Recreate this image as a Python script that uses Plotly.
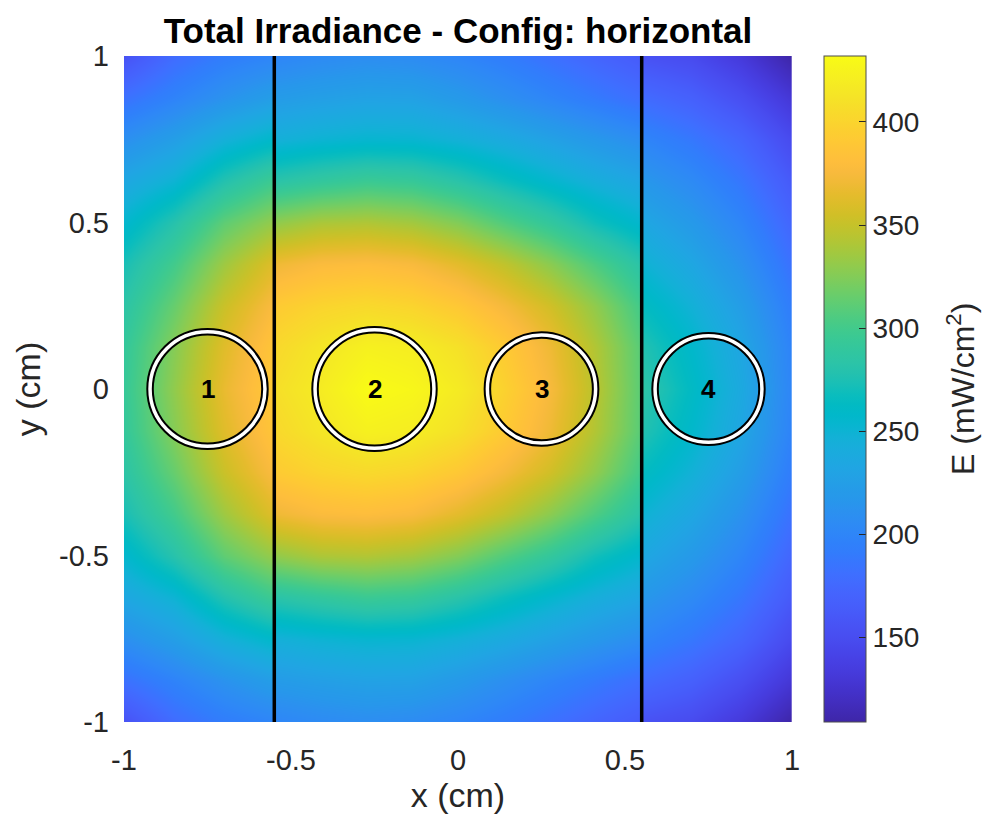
import numpy as np
import plotly.graph_objects as go

# ---- irradiance samples (mW/cm^2), upper half y = 0 .. 1; field is mirror-symmetric about y = 0
y_half = [0.0, 0.125, 0.25, 0.375, 0.5, 0.625, 0.75, 0.875, 1.0]

# left compartment (x < -0.55)
x_left = [-1.0, -0.85, -0.7, -0.55]
E_left = [
    [293, 330, 367, 392],
    [291, 326, 362, 388],
    [284, 315, 352, 378],
    [273, 300, 335, 362],
    [255, 280, 312, 332],
    [235, 250, 278, 298],
    [210, 225, 245, 258],
    [183, 198, 213, 225],
    [155, 178, 192, 200],
]

# middle compartment (-0.55 < x < 0.55)
x_mid = [-0.55, -0.4125, -0.275, -0.1375, 0.0, 0.1375, 0.275, 0.4125, 0.55]
E_mid = [
    [408, 419, 432, 428, 418, 398, 375, 345, 310],
    [403, 414, 423, 420, 410, 392, 370, 342, 309],
    [392, 400, 404, 400, 390, 374, 355, 330, 300],
    [370, 378, 380, 376, 364, 348, 328, 305, 282],
    [330, 340, 342, 337, 325, 307, 290, 270, 255],
    [282, 290, 296, 293, 282, 268, 255, 243, 233],
    [245, 250, 253, 252, 246, 238, 228, 218, 208],
    [222, 226, 229, 228, 220, 210, 200, 190, 180],
    [200, 205, 208, 206, 200, 192, 182, 172, 162],
]

# right compartment (x > 0.55)
x_right = [0.55, 0.7, 0.85, 1.0]
E_right = [
    [285, 262, 237, 200],
    [278, 257, 233, 198],
    [265, 247, 224, 192],
    [250, 234, 212, 183],
    [235, 220, 200, 173],
    [218, 205, 187, 162],
    [200, 188, 172, 148],
    [178, 168, 152, 130],
    [155, 148, 132, 109],
]

# partition walls and emitters
wall_x = [-0.55, 0.55]
led_x = [-0.75, -0.25, 0.25, 0.75]
led_y = [0.0, 0.0, 0.0, 0.0]
led_r = [0.172, 0.178, 0.162, 0.160]
led_labels = ["1", "2", "3", "4"]

cbar_ticks = [150, 200, 250, 300, 350, 400]
axis_ticks = [-1, -0.5, 0, 0.5, 1]
axis_ticktext = ["-1", "-0.5", "0", "0.5", "1"]

# MATLAB parula colormap (64 entries)
parula = [
    [0.2422, 0.1504, 0.6603], [0.2504, 0.1650, 0.7076], [0.2578, 0.1818, 0.7511], [0.2647, 0.1978, 0.7952],
    [0.2706, 0.2147, 0.8364], [0.2751, 0.2342, 0.8710], [0.2783, 0.2559, 0.8991], [0.2803, 0.2782, 0.9221],
    [0.2813, 0.3006, 0.9414], [0.2810, 0.3228, 0.9579], [0.2795, 0.3447, 0.9717], [0.2760, 0.3667, 0.9829],
    [0.2699, 0.3892, 0.9906], [0.2602, 0.4123, 0.9952], [0.2440, 0.4358, 0.9988], [0.2206, 0.4603, 0.9973],
    [0.1963, 0.4847, 0.9892], [0.1834, 0.5074, 0.9798], [0.1786, 0.5289, 0.9682], [0.1764, 0.5499, 0.9520],
    [0.1687, 0.5703, 0.9359], [0.1540, 0.5902, 0.9218], [0.1460, 0.6091, 0.9079], [0.1380, 0.6276, 0.8973],
    [0.1248, 0.6459, 0.8883], [0.1113, 0.6635, 0.8763], [0.0952, 0.6798, 0.8598], [0.0689, 0.6948, 0.8394],
    [0.0297, 0.7082, 0.8163], [0.0036, 0.7203, 0.7917], [0.0067, 0.7312, 0.7660], [0.0433, 0.7411, 0.7394],
    [0.0964, 0.7500, 0.7120], [0.1408, 0.7584, 0.6842], [0.1717, 0.7670, 0.6554], [0.1938, 0.7758, 0.6251],
    [0.2161, 0.7843, 0.5923], [0.2470, 0.7918, 0.5567], [0.2906, 0.7973, 0.5188], [0.3406, 0.8008, 0.4789],
    [0.3909, 0.8029, 0.4354], [0.4456, 0.8024, 0.3909], [0.5044, 0.7993, 0.3480], [0.5616, 0.7942, 0.3045],
    [0.6174, 0.7876, 0.2612], [0.6720, 0.7793, 0.2227], [0.7242, 0.7698, 0.1910], [0.7738, 0.7598, 0.1646],
    [0.8203, 0.7498, 0.1535], [0.8634, 0.7406, 0.1596], [0.9035, 0.7330, 0.1774], [0.9393, 0.7288, 0.2100],
    [0.9728, 0.7298, 0.2394], [0.9956, 0.7434, 0.2371], [0.9970, 0.7659, 0.2199], [0.9952, 0.7893, 0.2028],
    [0.9892, 0.8136, 0.1885], [0.9786, 0.8386, 0.1766], [0.9676, 0.8639, 0.1643], [0.9610, 0.8890, 0.1537],
    [0.9597, 0.9135, 0.1423], [0.9628, 0.9373, 0.1265], [0.9691, 0.9606, 0.1064], [0.9769, 0.9839, 0.0805],
]
colorscale = [
    [i / (len(parula) - 1), "rgb({:.0f},{:.0f},{:.0f})".format(r * 255, g * 255, b * 255)]
    for i, (r, g, b) in enumerate(parula)
]

FONT = "Liberation Sans, Arial, Helvetica, sans-serif"
INK = "#262626"
TICK_SIZE = 29
LABEL_SIZE = 34


def full_grid(rows):
    """Stack the upper-half rows with their mirror image below y = 0."""
    a = np.asarray(rows, dtype=float)
    return np.vstack([a[::-1], a[1:]])


y_full = [-v for v in y_half[::-1]] + y_half[1:]

fig = go.Figure()

# one heatmap per compartment, each on its own hidden x-axis so the walls stay sharp
for xs, E, xa in [(x_left, E_left, "x2"), (x_mid, E_mid, "x3"), (x_right, E_right, "x4")]:
    fig.add_trace(go.Heatmap(
        x=xs, y=y_full, z=full_grid(E),
        xaxis=xa, yaxis="y",
        coloraxis="coloraxis", zsmooth="best",
        hoverinfo="skip",
    ))

# invisible anchor trace on the main axes
fig.add_trace(go.Scatter(x=[-1, 1], y=[-1, 1], mode="markers",
                         marker=dict(opacity=0), hoverinfo="skip", showlegend=False))

shapes = []
for wx in wall_x:
    shapes.append(dict(type="line", xref="x", yref="y", x0=wx, x1=wx, y0=-1, y1=1,
                       line=dict(color="black", width=3.5), layer="above"))
for cx, cy, r in zip(led_x, led_y, led_r):
    shapes.append(dict(type="circle", xref="x", yref="y", x0=cx - r, x1=cx + r, y0=cy - r, y1=cy + r,
                       line=dict(color="black", width=7.5), layer="above"))
    shapes.append(dict(type="circle", xref="x", yref="y", x0=cx - r, x1=cx + r, y0=cy - r, y1=cy + r,
                       line=dict(color="white", width=3.5), layer="above"))

annotations = []
for cx, cy, lab in zip(led_x, led_y, led_labels):
    annotations.append(dict(x=cx, y=cy, xref="x", yref="y", text="<b>%s</b>" % lab, showarrow=False,
                            font=dict(family=FONT, size=26, color="black"), xanchor="center", yanchor="middle"))

L = 124
W = 792 - 124
annotations.append(dict(x=(961 - L) / W, y=0.5, xref="paper", yref="paper", text="E (mW/cm<sup>2</sup>)",
                        textangle=-90, showarrow=False, xanchor="center", yanchor="middle",
                        font=dict(family=FONT, size=LABEL_SIZE - 2, color=INK)))

sub_axis = dict(visible=False, anchor="y", fixedrange=True)

fig.update_layout(
    width=987, height=825,
    margin=dict(l=124, r=987 - 792, t=56, b=825 - 722, pad=0),
    paper_bgcolor="white", plot_bgcolor="white",
    font=dict(family=FONT, size=TICK_SIZE, color=INK),
    showlegend=False,
    title=dict(text="<b>Total Irradiance - Config: horizontal</b>", x=0.5, xref="paper",
               y=1 - 31 / 825, yref="container", xanchor="center", yanchor="middle",
               font=dict(family=FONT, size=35, color="black")),
    xaxis=dict(domain=[0, 1], range=[-1, 1], tickvals=axis_ticks, ticktext=axis_ticktext,
               showgrid=False, zeroline=False, showline=False, ticks="",
               ticklabelstandoff=18,
               tickfont=dict(size=TICK_SIZE, color=INK),
               title=dict(text="x (cm)", font=dict(size=LABEL_SIZE, color=INK), standoff=4)),
    yaxis=dict(domain=[0, 1], range=[-1, 1], tickvals=axis_ticks, ticktext=axis_ticktext,
               showgrid=False, zeroline=False, showline=False, ticks="",
               ticklabelstandoff=14,
               tickfont=dict(size=TICK_SIZE, color=INK),
               title=dict(text="y (cm)", font=dict(size=LABEL_SIZE, color=INK), standoff=8)),
    xaxis2=dict(domain=[0, 0.225], range=[-1, -0.55], **sub_axis),
    xaxis3=dict(domain=[0.225, 0.775], range=[-0.55, 0.55], **sub_axis),
    xaxis4=dict(domain=[0.775, 1], range=[0.55, 1], **sub_axis),
    coloraxis=dict(
        colorscale=colorscale, cmin=109, cmax=432,
        colorbar=dict(
            x=(824 - L) / W, xanchor="left", y=0.5, yanchor="middle",
            len=1, lenmode="fraction", thickness=42, thicknessmode="pixels",
            xpad=0, ypad=0, outlinewidth=1, outlinecolor="#4d4d4d",
            ticks="inside", ticklen=7, tickcolor=INK, tickwidth=1,
            tickvals=cbar_ticks, tickfont=dict(size=TICK_SIZE - 1, color=INK),
        ),
    ),
    shapes=shapes,
    annotations=annotations,
)

fig.write_html("out.html")
